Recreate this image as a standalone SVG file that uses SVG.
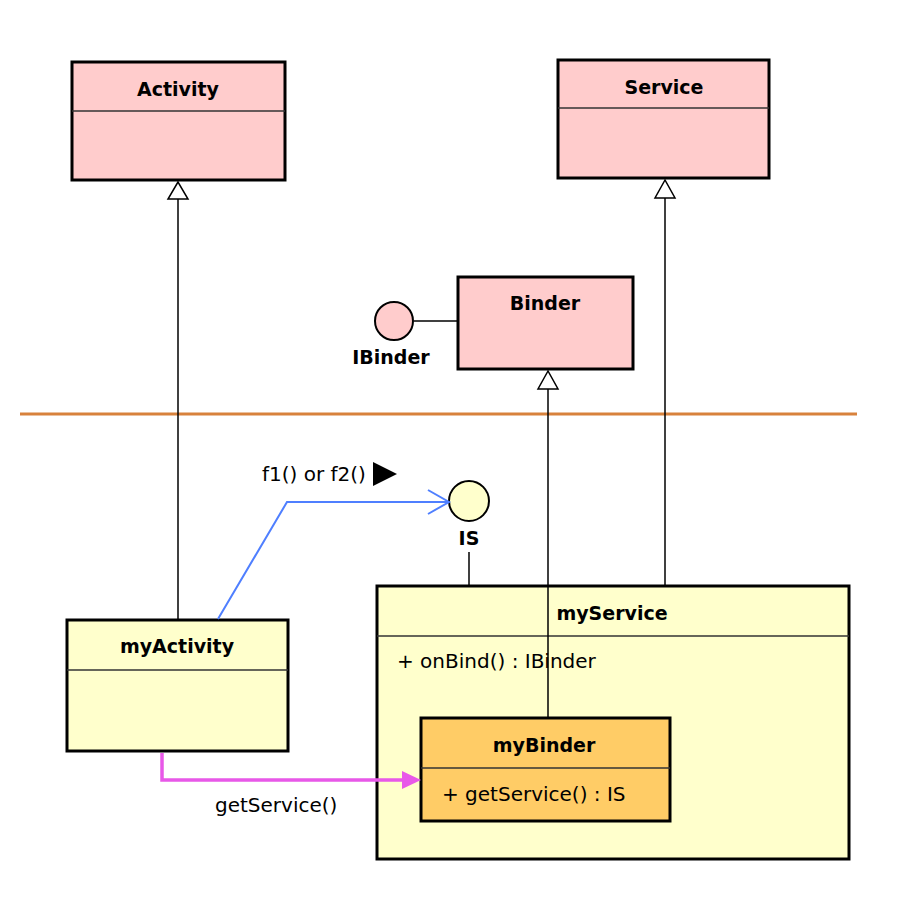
<svg xmlns="http://www.w3.org/2000/svg" width="918" height="902" viewBox="0 0 918 902">
<defs>
<style>
.box{stroke:#000;stroke-width:3}
.pink{fill:#ffcccc}
.yel{fill:#ffffcc}
.org{fill:#ffcc66}
.div{stroke:#333;stroke-width:1.5}
.t{font-family:"DejaVu Sans","Liberation Sans",sans-serif;font-size:20px;fill:#000}
.b{font-weight:bold;text-anchor:middle;font-size:19px}
.ln{stroke:#000;stroke-width:1.5;fill:none}
.tri{fill:#fff;stroke:#000;stroke-width:1.5}
</style>
</defs>
<rect width="918" height="902" fill="#fff"/>
<line x1="20" y1="414" x2="857" y2="414" stroke="#d8823c" stroke-width="3"/>
<g id="Activity">
<rect class="box pink" x="72" y="62" width="213" height="118"/>
<line class="div" x1="72" y1="111" x2="285" y2="111"/>
<text class="t b" x="178" y="96">Activity</text>
</g>
<g id="Service">
<rect class="box pink" x="558" y="60" width="211" height="118"/>
<line class="div" x1="558" y1="108" x2="769" y2="108"/>
<text class="t b" x="664" y="94">Service</text>
</g>
<g id="Binder">
<rect class="box pink" x="458" y="277" width="175" height="92"/>
<text class="t b" x="545" y="310">Binder</text>
</g>
<g id="IBinder">
<circle cx="394" cy="321" r="19" fill="#ffcccc" stroke="#000" stroke-width="2"/>
<text class="t b" x="391" y="364">IBinder</text>
</g>
<g id="IS">
<circle cx="469" cy="501" r="20" fill="#ffffcc" stroke="#000" stroke-width="2"/>
<text class="t b" x="469" y="545">IS</text>
</g>
<g id="myActivity">
<rect class="box yel" x="67" y="620" width="221" height="131"/>
<line class="div" x1="67" y1="670" x2="288" y2="670"/>
<text class="t b" x="177" y="653">myActivity</text>
</g>
<g id="myService">
<rect class="box yel" x="377" y="586" width="472" height="273"/>
<line class="div" x1="377" y1="636" x2="849" y2="636"/>
<text class="t b" x="612" y="620">myService</text>
<text class="t" x="397" y="668">+ onBind() : IBinder</text>
</g>
<g id="myBinder">
<rect class="box org" x="421" y="718" width="249" height="103"/>
<line class="div" x1="421" y1="768" x2="670" y2="768"/>
<text class="t b" x="544" y="752">myBinder</text>
<text class="t" x="442" y="801">+ getService() : IS</text>
</g>
<g id="connectors">
<line class="ln" x1="178" y1="199" x2="178" y2="619"/>
<polygon class="tri" points="178,182 168,199 188,199"/>
<line class="ln" x1="665" y1="198" x2="665" y2="585"/>
<polygon class="tri" points="665,180 655,198 675,198"/>
<line class="ln" x1="548" y1="389" x2="548" y2="717"/>
<polygon class="tri" points="548,371 538,389 558,389"/>
<line class="ln" x1="414" y1="321" x2="457" y2="321"/>
<line class="ln" x1="469" y1="552" x2="469" y2="585"/>
<polyline points="218,619 287,502 448,502" fill="none" stroke="#4f7fff" stroke-width="2"/>
<polyline points="428,490 449,502 428,514" fill="none" stroke="#4f7fff" stroke-width="2"/>
<polyline points="162,753 162,780 404,780" fill="none" stroke="#e858e8" stroke-width="3.5"/>
<polygon points="402,771 421,780 402,789" fill="#e858e8"/>
<text class="t" x="262" y="481">f1() or f2()</text>
<polygon points="373,462 397,474 373,486" fill="#000"/>
<text class="t" x="215" y="812">getService()</text>
</g>
</svg>
